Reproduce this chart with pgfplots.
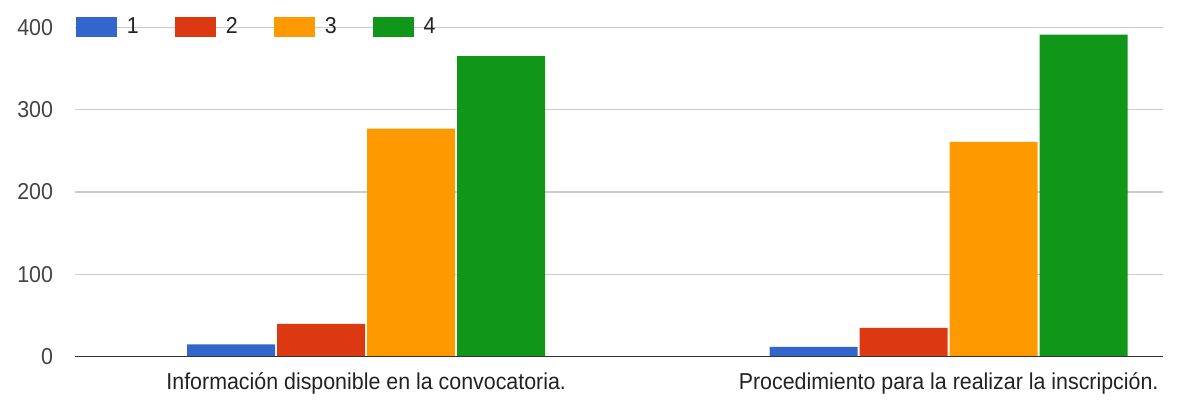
\documentclass[border=0pt]{standalone}
\usepackage{fontspec}
\setmainfont{Liberation Sans}[FakeStretch=0.93]
\usepackage{pgfplots}
\pgfplotsset{compat=1.18}

\definecolor{gblue}{HTML}{3366CC}
\definecolor{gred}{HTML}{DC3912}
\definecolor{gorange}{HTML}{FF9900}
\definecolor{ggreen}{HTML}{109618}
\definecolor{gridgray}{HTML}{CCCCCC}
\definecolor{basegray}{HTML}{333333}
\definecolor{ticktext}{HTML}{444444}
\definecolor{labeltext}{HTML}{222222}

\newcommand{\fs}{\fontsize{11.5}{13}\selectfont}

\pgfplotsset{
  boxlegend/.style={legend image code/.code={\fill[##1] (0pt,-5pt) rectangle (20.5pt,5pt);}},
}

\begin{document}
\begin{tikzpicture}
  % page size: 1178x405 px at 0.5pt per px
  \useasboundingbox (-37.5pt,-24.15pt) rectangle (551.5pt,178.35pt);
  \begin{axis}[
      at={(0,0)}, anchor=south west,
      scale only axis,
      width=544pt, height=164.7pt,
      ybar=1pt,
      bar width=44pt,
      xmin=-0.5, xmax=1.368,
      ymin=0, ymax=400,
      xtick={0,1},
      xticklabels={Información disponible en la convocatoria., Procedimiento para la realizar la inscripción.},
      ytick={0,100,200,300,400},
      ymajorgrids,
      grid style={color=gridgray, line width=0.75pt},
      axis line style={draw=none},
      major tick length=0pt,
      /pgf/number format/assume math mode=true,
      tick label style={font=\fs},
      yticklabel style={anchor=east, inner sep=0pt, xshift=-10.8pt, text=ticktext},
      xticklabel style={anchor=base, inner sep=0pt, yshift=-16.65pt, text=labeltext},
      legend columns=4,
      legend style={
          at={(0,1)}, anchor=west, xshift=0.5pt,
          draw=none, fill=none,
          inner sep=0pt, outer sep=0pt,
          font=\fs,
          nodes={inner sep=0pt, fill=none, text=labeltext},
          /tikz/every odd column/.append style={column sep=5pt},
          /tikz/every even column/.append style={column sep=18pt},
      },
    ]
    \addplot[fill=gblue, draw=none, boxlegend] coordinates {(0,15) (1,12)};
    \addplot[fill=gred, draw=none, boxlegend] coordinates {(0,40) (1,35)};
    \addplot[fill=gorange, draw=none, boxlegend] coordinates {(0,277) (1,261)};
    \addplot[fill=ggreen, draw=none, boxlegend] coordinates {(0,365) (1,391)};
    \legend{1,2,3,4}
    \draw[basegray, line width=1pt] (rel axis cs:0,0) -- (rel axis cs:1,0);
  \end{axis}
\end{tikzpicture}
\end{document}
